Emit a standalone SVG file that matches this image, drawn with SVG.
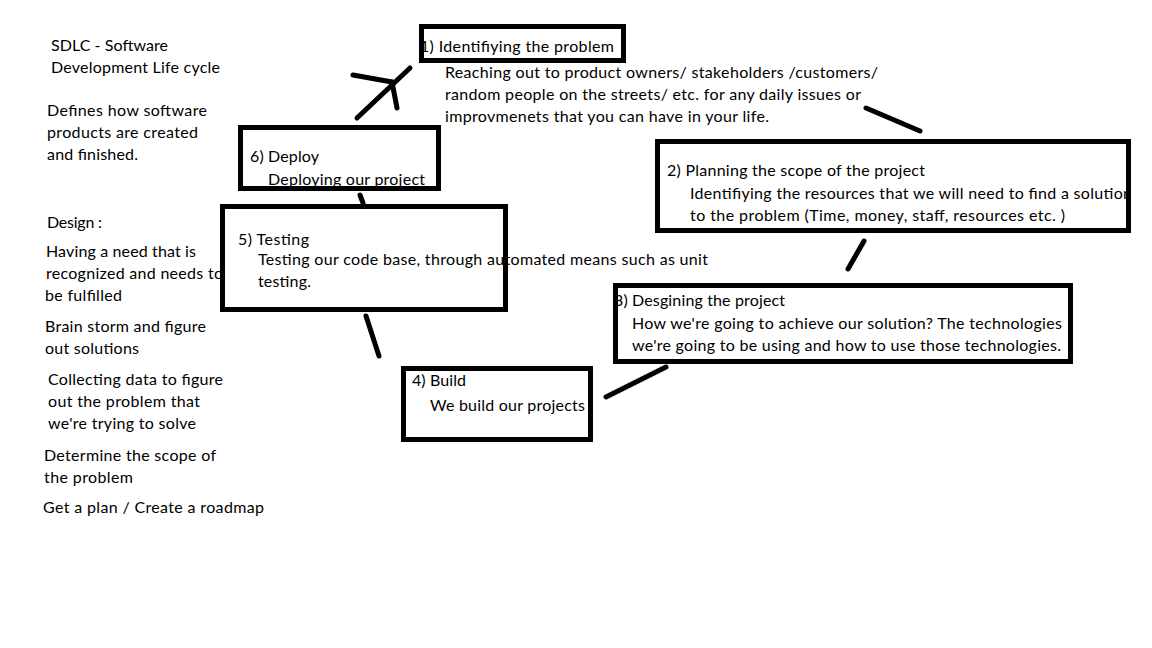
<svg xmlns="http://www.w3.org/2000/svg" width="1152" height="648" viewBox="0 0 1152 648">
<style>
text{font-family:Lato,"Liberation Sans",sans-serif;font-size:16px;fill:#000}
.box{fill:none;stroke:#000;stroke-width:5}
.con line{stroke:#000;stroke-width:5;stroke-linecap:round}
</style>
<rect width="1152" height="648" fill="#fff"/>
<g id="notes">
<text x="51" y="51" textLength="117">SDLC - Software</text>
<text x="51" y="73" textLength="169">Development Life cycle</text>
<text x="47" y="116" textLength="160">Defines how software</text>
<text x="47" y="138" textLength="151">products are created</text>
<text x="47" y="160" textLength="91">and finished.</text>
<text x="47" y="228" textLength="55">Design :</text>
<text x="46" y="257" textLength="150">Having a need that is</text>
<text x="46" y="279" textLength="177">recognized and needs to</text>
<text x="45" y="301" textLength="77">be fulfilled</text>
<text x="45" y="332" textLength="161">Brain storm and figure</text>
<text x="45" y="354" textLength="94">out solutions</text>
<text x="48" y="385" textLength="175">Collecting data to figure</text>
<text x="48" y="407" textLength="152">out the problem that</text>
<text x="48" y="429" textLength="148">we're trying to solve</text>
<text x="44" y="461" textLength="172">Determine the scope of</text>
<text x="44" y="483" textLength="89">the problem</text>
<text x="43" y="513" textLength="221">Get a plan / Create a roadmap</text>
</g>
<g id="node1">
<text x="420" y="52" textLength="194">1) Identifiying the problem</text>
<text x="445" y="78" textLength="433">Reaching out to product owners/ stakeholders /customers/</text>
<text x="445" y="100" textLength="416">random people on the streets/ etc. for any daily issues or</text>
<text x="445" y="122" textLength="324">improvmenets that you can have in your life.</text>
<rect class="box" x="421.5" y="26.5" width="202" height="34"/>
</g>
<g id="node2">
<text x="667" y="176" textLength="258">2) Planning the scope of the project</text>
<text x="690" y="199" textLength="442">Identifiying the resources that we will need to find a solution</text>
<text x="690" y="221" textLength="375">to the problem (Time, money, staff, resources etc. )</text>
<rect x="1131" y="180" width="8" height="30" fill="#fff"/>
<rect class="box" x="657.5" y="141.5" width="471" height="89"/>
</g>
<g id="node3">
<text x="614" y="306" textLength="171">3) Desgining the project</text>
<text x="632" y="329" textLength="430">How we're going to achieve our solution? The technologies</text>
<text x="632" y="351" textLength="429">we're going to be using and how to use those technologies.</text>
<rect class="box" x="615.5" y="285.5" width="455" height="76"/>
</g>
<g id="node4">
<text x="412" y="386" textLength="54">4) Build</text>
<text x="430" y="411" textLength="155">We build our projects</text>
<rect class="box" x="403.5" y="368.5" width="187" height="71"/>
</g>
<g id="node5">
<text x="238" y="245" textLength="71">5) Testing</text>
<text x="258" y="265" textLength="450">Testing our code base, through automated means such as unit</text>
<text x="258" y="287" textLength="53">testing.</text>
<rect class="box" x="222.5" y="206.5" width="283" height="103"/>
</g>
<g id="node6">
<text x="250" y="162" textLength="69">6) Deploy</text>
<text x="268" y="185" textLength="157">Deploying our project</text>
<rect class="box" x="240.5" y="127.5" width="198" height="61"/>
</g>
<g id="connectors" class="con">
<line x1="866" y1="108" x2="920" y2="131"/>
<line x1="864" y1="241" x2="848" y2="269"/>
<line x1="666" y1="367" x2="606" y2="397"/>
<line x1="379" y1="356" x2="366" y2="316"/>
<line x1="363" y1="203" x2="360" y2="195"/>
<line x1="357" y1="118" x2="410" y2="68"/>
<line x1="353" y1="75" x2="392" y2="82"/>
<line x1="392" y1="82" x2="397" y2="108"/>
</g>
</svg>
